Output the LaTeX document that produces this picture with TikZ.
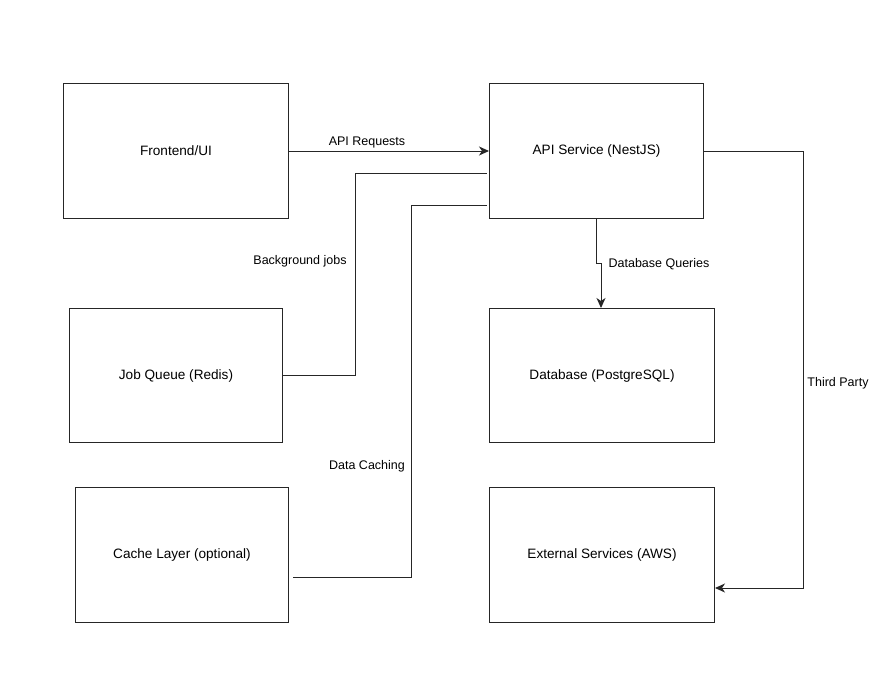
\documentclass[tikz,border=0pt]{standalone}
\usepackage{fontspec}
\setmainfont{Liberation Sans}
\usetikzlibrary{arrows.meta}
\begin{document}
\begin{tikzpicture}[x=1pt,y=-1pt,
  box/.style={draw=black!85,line width=1pt,fill=white,anchor=north west,inner sep=0pt,font=\fontsize{13.6}{16}\selectfont},
  conn/.style={draw=black!85,line width=1pt},
  arr/.style={conn,-{Stealth[length=10pt,width=9pt,inset=3pt]}},
  lbl/.style={font=\fontsize{12.5}{15}\selectfont,inner sep=0pt}]
\useasboundingbox (0,0) rectangle (896,680);
\node[box,minimum width=225pt,minimum height=135pt] (fe) at (63,83) {Frontend/UI};
\node[box,minimum width=214pt,minimum height=135pt] (api) at (489,83) {API Service (NestJS)};
\node[box,minimum width=213pt,minimum height=134pt] (jq) at (69,308) {Job Queue (Redis)};
\node[box,minimum width=225pt,minimum height=134pt] (db) at (489,308) {Database (PostgreSQL)};
\node[box,minimum width=213pt,minimum height=135pt] (cl) at (75,487) {Cache Layer (optional)};
\node[box,minimum width=225pt,minimum height=135pt] (ext) at (489,487) {External Services (AWS)};
% API Requests
\draw[arr] (fe.east |- 0,151) -- (api.west |- 0,151);
\node[lbl] (l1) at (367,142) {API Requests};
% Background jobs
\coordinate (bj) at (487,173);
\draw[conn] (jq.east |- 0,375) -- (355,375) -- (355,173) -- (bj);
\node[lbl] (l2) at (300,261) {Background jobs};
% Data Caching
\coordinate (dcs) at (293,577);
\coordinate (dc) at (487,205);
\draw[conn] (dcs) -- (411,577) -- (411,205) -- (dc);
\node[lbl] (l3) at (367,466) {Data Caching};
% Database Queries
\draw[arr] (api.south -| 596,0) -- (596,263) -- (601,263) -- (db.north -| 601,0);
\node[lbl] (l4) at (659,264) {Database Queries};
% Third Party
\draw[arr] (api.east |- 0,151) -- (803,151) -- (803,588) -- (ext.east |- 0,588);
\node[lbl] (l5) at (838,383) {Third Party};
\end{tikzpicture}
\end{document}
